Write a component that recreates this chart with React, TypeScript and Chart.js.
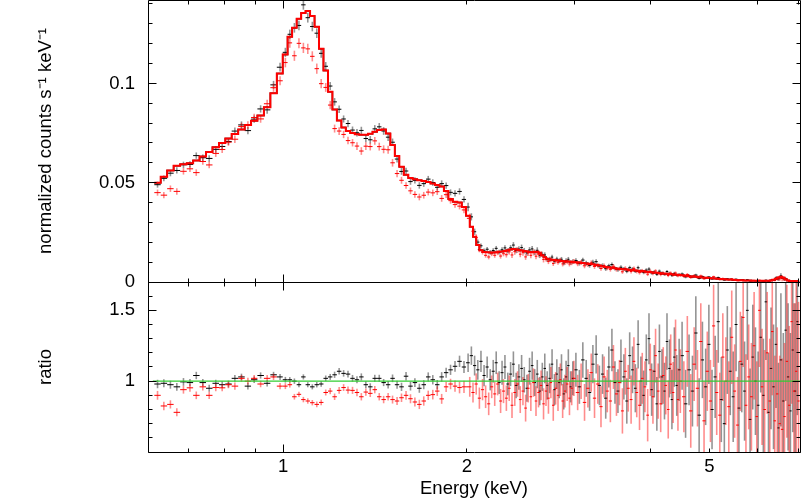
import React, { useEffect, useRef } from "react";
import { Chart, registerables } from "chart.js";

Chart.register(...registerables);

const FONT = "'Liberation Sans', Arial, Helvetica, sans-serif";
const FONT_SIZE = 18.5;

// ---- data (bin centres in keV) ----
const energyKeV = [
  0.622, 0.637, 0.653, 0.669, 0.686, 0.703, 0.72, 0.738, 0.756, 0.775, 0.794, 0.813, 0.833, 0.854, 0.875, 0.896, 0.918, 0.941, 0.964, 0.988,
  1.008, 1.025, 1.043, 1.061, 1.079, 1.097, 1.116, 1.135, 1.154, 1.174, 1.194, 1.214, 1.235, 1.256, 1.277, 1.299, 1.321, 1.343, 1.366, 1.389,
  1.413, 1.437, 1.461, 1.486, 1.511, 1.537, 1.563, 1.59, 1.617, 1.644, 1.672, 1.7, 1.729, 1.759, 1.789, 1.819, 1.85, 1.881, 1.913, 1.946, 1.979,
  2.01, 2.035, 2.06, 2.085, 2.11, 2.135, 2.16, 2.185, 2.21, 2.235, 2.26, 2.285, 2.31, 2.335, 2.36, 2.385, 2.41, 2.435, 2.46, 2.485,
  2.51, 2.535, 2.56, 2.585, 2.61, 2.635, 2.66, 2.685, 2.71, 2.735, 2.76, 2.785, 2.81, 2.835, 2.86, 2.885, 2.91, 2.935, 2.96, 2.985,
  3.02, 3.06, 3.1, 3.14, 3.18, 3.22, 3.26, 3.3, 3.34, 3.38, 3.42, 3.46, 3.5, 3.54, 3.58, 3.62, 3.66, 3.7, 3.74, 3.78,
  3.82, 3.86, 3.9, 3.94, 3.98, 4.02, 4.06, 4.1, 4.14, 4.18, 4.22, 4.26, 4.3, 4.34, 4.38, 4.42, 4.46,
  4.51, 4.57, 4.63, 4.69, 4.75, 4.81, 4.87, 4.93, 4.99, 5.05, 5.11, 5.17, 5.23, 5.29, 5.35, 5.41, 5.47, 5.53, 5.59, 5.65,
  5.71, 5.77, 5.83, 5.89, 5.95, 6.01, 6.07, 6.13, 6.19, 6.25, 6.31, 6.37, 6.43, 6.49, 6.55, 6.61, 6.67, 6.73, 6.79, 6.85, 6.91, 6.97,
];

// red instrument: same bins below 2 keV, interleaved bins above
const redEnergyHighKeV = [
  2.0225, 2.0475, 2.0725, 2.0975, 2.1225, 2.1475, 2.1725, 2.1975, 2.2225, 2.2475, 2.2725, 2.2975, 2.3225, 2.3475, 2.3725, 2.3975, 2.4225, 2.4475, 2.4725, 2.4975,
  2.5225, 2.5475, 2.5725, 2.5975, 2.6225, 2.6475, 2.6725, 2.6975, 2.7225, 2.7475, 2.7725, 2.7975, 2.8225, 2.8475, 2.8725, 2.8975, 2.9225, 2.9475, 2.9725, 2.9975,
  3.04, 3.08, 3.12, 3.16, 3.2, 3.24, 3.28, 3.32, 3.36, 3.4, 3.44, 3.48, 3.52, 3.56, 3.6, 3.64, 3.68, 3.72, 3.76, 3.8,
  3.84, 3.88, 3.92, 3.96, 4.0, 4.04, 4.08, 4.12, 4.16, 4.2, 4.24, 4.28, 4.32, 4.36, 4.4, 4.44, 4.48,
  4.54, 4.6, 4.66, 4.72, 4.78, 4.84, 4.9, 4.96, 5.02, 5.08, 5.14, 5.2, 5.26, 5.32, 5.38, 5.44, 5.5, 5.56, 5.62, 5.68,
  5.74, 5.8, 5.86, 5.92, 5.98, 6.04, 6.1, 6.16, 6.22, 6.28, 6.34, 6.4, 6.46, 6.52, 6.58, 6.64, 6.7, 6.76, 6.82, 6.88, 6.94, 7.0,
];

// folded model, normalized counts s^-1 keV^-1
const modelCounts = [
  0.05, 0.053, 0.0562, 0.0585, 0.0593, 0.0598, 0.0612, 0.0632, 0.0655, 0.0678, 0.07, 0.0722, 0.0745, 0.0768, 0.079, 0.0812, 0.0838, 0.088, 0.095, 0.105,
  0.1145, 0.1235, 0.128, 0.1325, 0.1355, 0.1365, 0.134, 0.1285, 0.1175, 0.1065, 0.0958, 0.0868, 0.0813, 0.0778, 0.076, 0.075, 0.0744, 0.0741, 0.0741, 0.0746,
  0.0756, 0.0766, 0.0768, 0.0748, 0.069, 0.0635, 0.058, 0.054, 0.0524, 0.0517, 0.0512, 0.0508, 0.0503, 0.0496, 0.0489, 0.0481, 0.0458, 0.0418, 0.0404, 0.04, 0.0378,
  0.0334, 0.0278, 0.0228, 0.0186, 0.016, 0.0151, 0.015, 0.0148, 0.0148, 0.015, 0.0152, 0.0153, 0.0156, 0.016, 0.0164, 0.0166, 0.0164, 0.0161, 0.0159, 0.0156,
  0.0154, 0.0151, 0.015, 0.0151, 0.0152, 0.0145, 0.0135, 0.0125, 0.0117, 0.0113, 0.0112, 0.0111, 0.011, 0.0108, 0.0106, 0.0105, 0.0104, 0.0103, 0.0102, 0.0101,
  0.01, 0.0098, 0.0096, 0.0093, 0.0091, 0.0089, 0.0086, 0.0083, 0.0079, 0.0076, 0.0074, 0.0072, 0.0069, 0.0067, 0.0065, 0.0064, 0.0063, 0.0061, 0.006, 0.0058,
  0.0057, 0.0055, 0.0054, 0.0052, 0.005, 0.0049, 0.0047, 0.0046, 0.0045, 0.0043, 0.0042, 0.0041, 0.004, 0.0039, 0.0037, 0.0036, 0.0035,
  0.0034, 0.0031, 0.0029, 0.0028, 0.0026, 0.0024, 0.0023, 0.0021, 0.002, 0.0019, 0.0017, 0.0016, 0.0015, 0.0014, 0.0013, 0.0012, 0.0011, 0.001, 0.0009, 0.00085,
  0.0008, 0.00075, 0.0007, 0.00066, 0.00063, 0.0006, 0.00058, 0.00058, 0.0006, 0.00065, 0.0008, 0.0011, 0.0016, 0.0023, 0.0027, 0.0022, 0.0012, 0.0007, 0.0005, 0.0005, 0.00045, 0.0004,
];

// data / model ratio, black data set
const ratioBlack = [
  0.98, 0.985, 0.975, 0.96, 0.995, 0.99, 1.04, 0.99, 0.95, 0.985, 0.975, 0.98, 1.02, 1.03, 0.965, 1.01, 1.04, 0.985, 1.045, 1.03,
  1.01, 1.01, 1.0, 0.975, 1.03, 0.975, 0.96, 0.975, 0.98, 1.02, 1.03, 1.045, 1.07, 1.055, 1.05, 1.02, 1.01, 1.03, 0.975, 0.96,
  1.02, 1.02, 0.99, 0.975, 1.02, 0.975, 0.96, 1.035, 0.965, 0.99, 0.95, 0.975, 1.03, 1.01, 0.975, 1.03, 1.06, 1.08, 1.105, 1.14, 1.1,
  1.13, 1.18, 1.11, 1.08, 1.14, 1.04, 1.1, 1.01, 1.07, 1.13, 0.99, 1.06, 1.1, 0.98, 1.05, 1.12, 0.97, 1.03, 1.09, 1.01,
  0.95, 1.07, 1.11, 0.99, 1.05, 0.93, 1.03, 1.09, 0.97, 1.02, 1.12, 0.94, 1.05, 0.99, 1.08, 0.91, 1.03, 1.11, 0.96, 1.02,
  1.08, 0.96, 1.15, 1.02, 0.92, 1.12, 1.19, 0.97, 1.05, 0.88, 1.1, 1.22, 0.99, 0.93, 1.14, 1.03, 0.86, 1.18, 1.08, 0.95,
  1.26, 1.0, 0.9, 1.15, 1.3, 0.94, 1.07, 0.84, 1.21, 1.03, 0.93, 1.28, 1.09, 0.87, 1.17, 0.97, 1.08,
  1.18, 0.84, 1.08, 0.93, 1.34, 0.76, 1.15, 0.96, 1.26, 0.8, 1.03, 1.42, 0.87, 0.7, 1.22, 1.07, 0.89, 1.4, 0.81, 1.12,
  0.93, 1.5, 0.73, 1.17, 1.0, 0.83, 1.31, 0.9, 1.56, 0.78, 1.09, 0.96, 1.26, 0.67, 1.15, 0.86, 1.36, 1.03, 0.79, 1.22, 0.93, 1.42,
];

// data / model ratio, red data set
const ratioRed = [
  0.9, 0.825, 0.836, 0.78, 0.94, 0.953, 0.9, 0.96, 0.9, 0.955, 0.953, 0.975, 0.965, 1.02, 1.0, 1.02, 0.98, 1.02, 1.03, 0.965,
  0.965, 0.975, 0.89, 0.907, 0.87, 0.86, 0.848, 0.836, 0.85, 0.92, 0.93, 0.89, 0.935, 0.955, 0.937, 0.935, 0.92, 0.89, 0.923, 0.914,
  0.94, 0.89, 0.87, 0.89, 0.87, 0.86, 0.883, 0.9, 0.876, 0.853, 0.836, 0.86, 0.9, 0.905, 0.93, 0.875, 0.96, 0.98, 0.965, 0.955, 0.96,
  0.96, 0.92, 0.98, 0.88, 0.94, 0.89, 0.84, 0.96, 0.91, 0.98, 0.86, 0.93, 0.88, 0.95, 0.83, 0.92, 0.98, 0.87, 0.93, 0.81,
  0.95, 0.89, 0.99, 0.86, 0.92, 0.97, 0.84, 0.93, 0.88, 0.99, 0.83, 0.95, 0.9, 1.01, 0.86, 0.93, 0.98, 0.88, 0.95, 1.02,
  0.92, 1.0, 0.85, 0.95, 1.06, 0.88, 0.98, 0.82, 1.03, 0.93, 0.86, 1.1, 0.91, 0.99, 0.79, 1.07, 0.95, 0.87, 1.14, 0.92,
  0.83, 1.02, 0.96, 0.76, 1.08, 0.89, 1.18, 0.93, 0.84, 1.04, 0.97, 0.8, 1.12, 0.92, 1.22, 0.87, 1.0,
  0.89, 1.21, 0.79, 1.12, 0.95, 1.28, 0.72, 1.07, 0.86, 1.39, 0.92, 0.76, 1.17, 1.0, 0.82, 1.31, 0.93, 0.69, 1.14, 1.45,
  0.83, 1.03, 0.89, 1.25, 0.75, 1.5, 0.96, 0.8, 1.2, 0.86, 1.35, 0.72, 0.91, 0.7, 0.66, 0.75, 1.14, 0.83, 1.42, 0.93, 1.07, 0.86,
];

// 1-sigma errors on the ratio
const errBlack = [
  0.03, 0.028, 0.028, 0.027, 0.027, 0.026, 0.026, 0.025, 0.025, 0.025, 0.024, 0.024, 0.024, 0.023, 0.023, 0.023, 0.022, 0.022, 0.021, 0.021,
  0.02, 0.019, 0.019, 0.018, 0.018, 0.018, 0.018, 0.019, 0.019, 0.02, 0.021, 0.022, 0.023, 0.023, 0.024, 0.024, 0.025, 0.025, 0.025, 0.025,
  0.025, 0.025, 0.025, 0.026, 0.027, 0.028, 0.029, 0.03, 0.031, 0.031, 0.032, 0.032, 0.032, 0.033, 0.033, 0.034, 0.035, 0.036, 0.038, 0.04, 0.042,
  0.065, 0.065, 0.07, 0.07, 0.075, 0.075, 0.075, 0.075, 0.08, 0.08, 0.08, 0.085, 0.085, 0.08, 0.085, 0.09, 0.09, 0.09, 0.095, 0.09,
  0.095, 0.095, 0.1, 0.095, 0.1, 0.1, 0.1, 0.105, 0.1, 0.105, 0.105, 0.11, 0.105, 0.11, 0.11, 0.11, 0.115, 0.115, 0.11, 0.12,
  0.12, 0.12, 0.125, 0.13, 0.13, 0.135, 0.135, 0.14, 0.14, 0.145, 0.145, 0.15, 0.15, 0.155, 0.155, 0.16, 0.16, 0.165, 0.165, 0.17,
  0.17, 0.175, 0.175, 0.18, 0.18, 0.185, 0.185, 0.19, 0.19, 0.195, 0.2, 0.2, 0.205, 0.21, 0.21, 0.215, 0.22,
  0.24, 0.24, 0.25, 0.25, 0.26, 0.26, 0.27, 0.27, 0.28, 0.28, 0.29, 0.29, 0.3, 0.3, 0.31, 0.31, 0.32, 0.33, 0.33, 0.34,
  0.35, 0.35, 0.36, 0.37, 0.38, 0.38, 0.39, 0.4, 0.41, 0.42, 0.43, 0.44, 0.45, 0.46, 0.47, 0.48, 0.5, 0.52, 0.55, 0.58, 0.62, 0.66,
];

const errRed = [
  0.031, 0.03, 0.029, 0.028, 0.028, 0.027, 0.027, 0.026, 0.026, 0.026, 0.025, 0.025, 0.025, 0.024, 0.024, 0.024, 0.023, 0.023, 0.022, 0.022,
  0.021, 0.02, 0.02, 0.019, 0.019, 0.019, 0.019, 0.02, 0.02, 0.021, 0.022, 0.023, 0.024, 0.024, 0.025, 0.025, 0.026, 0.026, 0.026, 0.026,
  0.026, 0.026, 0.026, 0.027, 0.028, 0.029, 0.03, 0.031, 0.032, 0.032, 0.033, 0.033, 0.033, 0.034, 0.034, 0.035, 0.036, 0.037, 0.039, 0.041, 0.043,
  0.07, 0.07, 0.075, 0.075, 0.075, 0.08, 0.08, 0.08, 0.085, 0.08, 0.085, 0.085, 0.09, 0.09, 0.09, 0.095, 0.09, 0.095, 0.1, 0.095,
  0.1, 0.1, 0.1, 0.105, 0.105, 0.105, 0.11, 0.105, 0.11, 0.11, 0.11, 0.115, 0.11, 0.115, 0.12, 0.115, 0.12, 0.12, 0.12, 0.125,
  0.125, 0.125, 0.13, 0.135, 0.135, 0.14, 0.14, 0.145, 0.145, 0.15, 0.15, 0.155, 0.155, 0.16, 0.16, 0.165, 0.165, 0.17, 0.17, 0.175,
  0.175, 0.18, 0.18, 0.185, 0.185, 0.19, 0.19, 0.195, 0.2, 0.2, 0.205, 0.205, 0.21, 0.215, 0.215, 0.22, 0.225,
  0.25, 0.25, 0.26, 0.26, 0.27, 0.27, 0.28, 0.28, 0.29, 0.29, 0.3, 0.3, 0.31, 0.31, 0.32, 0.33, 0.33, 0.34, 0.35, 0.35,
  0.36, 0.37, 0.38, 0.38, 0.39, 0.4, 0.41, 0.42, 0.43, 0.44, 0.45, 0.46, 0.47, 0.48, 0.5, 0.52, 0.54, 0.56, 0.58, 0.62, 0.66, 0.7,
];

// ---- axes ----
const xRange = [0.611, 7.04];
const topYRange = [0, 0.142];
const ratioYRange = [0.5, 1.7];
const ratioUnity = 1;
const xLabelTicks = [1, 2, 5];
const xMajorTicks = [1];
const xMinorTicks = [0.7, 0.8, 0.9, 2, 3, 4, 5, 6, 7];
const topYLabelTicks = [0, 0.05, 0.1];
const topYMajorTicks = [0, 0.05, 0.1];
const topYMinorTicks = [0.01, 0.02, 0.03, 0.04, 0.06, 0.07, 0.08, 0.09, 0.11, 0.12, 0.13, 0.14];
const ratioYLabelTicks = [1, 1.5];
const ratioYMajorTicks = [0.5, 1, 1.5];
const ratioYMinorTicks = [0.6, 0.7, 0.8, 0.9, 1.1, 1.2, 1.3, 1.4, 1.6, 1.7];
const topYTitle = "normalized counts s\u207B\u00B9 keV\u207B\u00B9";
const ratioYTitle = "ratio";
const xTitle = "Energy (keV)";

// ---- derived tables for the library ----
function edges(es: number[]) {
  const m = es.length;
  const lo = es.map((e, i) => (i === 0 ? e - (es[1] - e) / 2 : (es[i - 1] + e) / 2));
  const hi = es.map((e, i) => (i === m - 1 ? e + (e - es[m - 2]) / 2 : (e + es[i + 1]) / 2));
  return { lo, hi };
}
const lowBins = energyKeV.filter((e) => e < 2);
const energyRedKeV = [...lowBins, ...redEnergyHighKeV];
const blackBins = edges(energyKeV);
const redBins = edges(energyRedKeV);

const modelHist = modelCounts.flatMap((m, i) => [
  { x: blackBins.lo[i], y: m },
  { x: blackBins.hi[i], y: m },
]);
const topBlack = energyKeV.map((e, i) => ({ x: e, y: modelCounts[i] * ratioBlack[i] }));
const topRed = energyRedKeV.map((e, i) => ({ x: e, y: modelCounts[i] * ratioRed[i] }));
const topBlackErr = modelCounts.map((m, i) => m * errBlack[i]);
const topRedErr = modelCounts.map((m, i) => m * errRed[i]);
const ratioBlackPts = energyKeV.map((e, i) => ({ x: e, y: ratioBlack[i] }));
const ratioRedPts = energyRedKeV.map((e, i) => ({ x: e, y: ratioRed[i] }));
const unityLine = [
  { x: xRange[0], y: ratioUnity },
  { x: xRange[1], y: ratioUnity },
];

const BLACK_ERR = "rgba(0,0,0,0.42)";
const RED_ERR = "rgba(255,0,0,0.45)";

const crossesPlugin = {
  id: "crosses",
  beforeDatasetsDraw(chart: any) {
    const { ctx, chartArea: a, scales } = chart;
    const xs = scales.x;
    const ys = scales.y;
    ctx.save();
    ctx.beginPath();
    ctx.rect(a.left, a.top, a.right - a.left, a.bottom - a.top);
    ctx.clip();
    chart.data.datasets.forEach((ds: any) => {
      const eb = ds.crosses;
      if (!eb) return;
      ds.data.forEach((p: any, i: number) => {
        const px = xs.getPixelForValue(p.x);
        const py = ys.getPixelForValue(p.y);
        const y0 = ys.getPixelForValue(p.y - eb.err[i]);
        const y1 = ys.getPixelForValue(p.y + eb.err[i]);
        ctx.strokeStyle = eb.errColor;
        ctx.lineWidth = 1.6;
        ctx.beginPath();
        ctx.moveTo(px, y0);
        ctx.lineTo(px, y1);
        ctx.stroke();
        const x0 = xs.getPixelForValue(eb.lo[i]);
        const x1 = xs.getPixelForValue(eb.hi[i]);
        ctx.strokeStyle = eb.color;
        ctx.lineWidth = 1;
        ctx.beginPath();
        ctx.moveTo(x0, py);
        ctx.lineTo(x1, py);
        ctx.stroke();
      });
    });
    ctx.restore();
  },
};

function makeFramePlugin(yMajor: number[], yMinor: number[]) {
  return {
    id: "frame",
    afterDraw(chart: any) {
      const { ctx, chartArea: a, scales } = chart;
      const xs = scales.x;
      const ys = scales.y;
      const c = (v: number) => Math.floor(v) + 0.5;
      const L = c(a.left);
      const R = c(a.right);
      const T = c(a.top);
      const B = c(a.bottom);
      ctx.save();
      ctx.strokeStyle = "#000";
      ctx.lineWidth = 1;
      const seg = (x0: number, y0: number, x1: number, y1: number) => {
        ctx.beginPath();
        ctx.moveTo(x0, y0);
        ctx.lineTo(x1, y1);
        ctx.stroke();
      };
      seg(L, T, R, T);
      seg(R, T, R, B);
      seg(R, B, L, B);
      seg(L, B, L, T);
      const xt = (v: number, len: number) => {
        const px = c(xs.getPixelForValue(v));
        seg(px, B, px, B - len);
        seg(px, T, px, T + len);
      };
      const yt = (v: number, len: number) => {
        const py = c(ys.getPixelForValue(v));
        seg(L, py, L + len, py);
        seg(R, py, R - len, py);
      };
      xMajorTicks.forEach((v) => xt(v, 8));
      xMinorTicks.forEach((v) => xt(v, 4));
      yMajor.forEach((v) => yt(v, 8));
      yMinor.forEach((v) => yt(v, 4));
      ctx.restore();
    },
  };
}

const font = { family: FONT, size: FONT_SIZE };

function yAxis(range: number[], labels: number[], title: string) {
  return {
    type: "linear",
    min: range[0],
    max: range[1],
    afterFit: (s: any) => {
      s.width = 148;
      s.paddingTop = 0;
      s.paddingBottom = 0;
    },
    afterBuildTicks: (s: any) => {
      s.ticks = labels.map((v) => ({ value: v }));
    },
    grid: { display: false, drawTicks: false },
    border: { display: false },
    ticks: { padding: 13, color: "#000", font, callback: (v: any) => String(v) },
    title: { display: true, text: title, color: "#000", font, padding: { top: 35, bottom: 0 } },
  };
}

function topConfig(): any {
  return {
    type: "scatter",
    data: {
      datasets: [
        { data: modelHist, showLine: true, borderColor: "#ff0000", borderWidth: 2, pointRadius: 0, order: 0 },
        { data: modelHist, showLine: true, borderColor: "#000000", borderWidth: 1.5, pointRadius: 0, order: 1 },
        {
          data: topBlack,
          pointRadius: 0,
          order: 3,
          crosses: { err: topBlackErr, lo: blackBins.lo, hi: blackBins.hi, color: "#000", errColor: BLACK_ERR },
        },
        {
          data: topRed,
          pointRadius: 0,
          order: 2,
          crosses: { err: topRedErr, lo: redBins.lo, hi: redBins.hi, color: "#ff0000", errColor: RED_ERR },
        },
      ],
    },
    options: {
      responsive: false,
      animation: false,
      events: [],
      layout: { padding: { left: 0, right: 2, top: 0, bottom: 18 } },
      plugins: { legend: { display: false }, tooltip: { enabled: false } },
      scales: {
        x: {
          type: "logarithmic",
          min: xRange[0],
          max: xRange[1],
          display: false,
          afterFit: (s: any) => {
            s.paddingLeft = 0;
            s.paddingRight = 0;
          },
        },
        y: yAxis(topYRange, topYLabelTicks, topYTitle),
      },
    },
    plugins: [crossesPlugin, makeFramePlugin(topYMajorTicks, topYMinorTicks)],
  };
}

function bottomConfig(): any {
  return {
    type: "scatter",
    data: {
      datasets: [
        { data: unityLine, showLine: true, borderColor: "rgb(50,205,50)", borderWidth: 1.3, pointRadius: 0, order: 0 },
        {
          data: ratioBlackPts,
          pointRadius: 0,
          order: 2,
          crosses: { err: errBlack, lo: blackBins.lo, hi: blackBins.hi, color: "#000", errColor: BLACK_ERR },
        },
        {
          data: ratioRedPts,
          pointRadius: 0,
          order: 1,
          crosses: { err: errRed, lo: redBins.lo, hi: redBins.hi, color: "#ff0000", errColor: RED_ERR },
        },
      ],
    },
    options: {
      responsive: false,
      animation: false,
      events: [],
      layout: { padding: { left: 0, right: 2, top: 0, bottom: 0 } },
      plugins: { legend: { display: false }, tooltip: { enabled: false } },
      scales: {
        x: {
          type: "logarithmic",
          min: xRange[0],
          max: xRange[1],
          afterFit: (s: any) => {
            s.height = 46;
            s.paddingLeft = 0;
            s.paddingRight = 0;
          },
          afterBuildTicks: (s: any) => {
            s.ticks = xLabelTicks.map((v) => ({ value: v }));
          },
          grid: { display: false, drawTicks: false },
          border: { display: false },
          ticks: { padding: 4, autoSkip: false, maxRotation: 0, color: "#000", font, callback: (v: any) => String(v) },
          title: { display: true, text: xTitle, color: "#000", font, padding: { top: 0, bottom: -2 } },
        },
        y: yAxis(ratioYRange, ratioYLabelTicks, ratioYTitle),
      },
    },
    plugins: [crossesPlugin, makeFramePlugin(ratioYMajorTicks, ratioYMinorTicks)],
  };
}

export default function App() {
  const topRef = useRef<HTMLCanvasElement>(null);
  const botRef = useRef<HTMLCanvasElement>(null);

  useEffect(() => {
    document.body.style.margin = "0";
    const c2 = new Chart(botRef.current as HTMLCanvasElement, bottomConfig());
    const c1 = new Chart(topRef.current as HTMLCanvasElement, topConfig());
    return () => {
      c1.destroy();
      c2.destroy();
    };
  }, []);

  return (
    <div style={{ position: "relative", width: 802, height: 498, background: "#fff", overflow: "hidden" }}>
      <style>{"body{margin:0}"}</style>
      <canvas
        ref={botRef}
        width={802}
        height={216}
        style={{ position: "absolute", left: 0, top: 282, width: 802, height: 216 }}
      />
      <canvas
        ref={topRef}
        width={802}
        height={300}
        style={{ position: "absolute", left: 0, top: 0, width: 802, height: 300 }}
      />
    </div>
  );
}
